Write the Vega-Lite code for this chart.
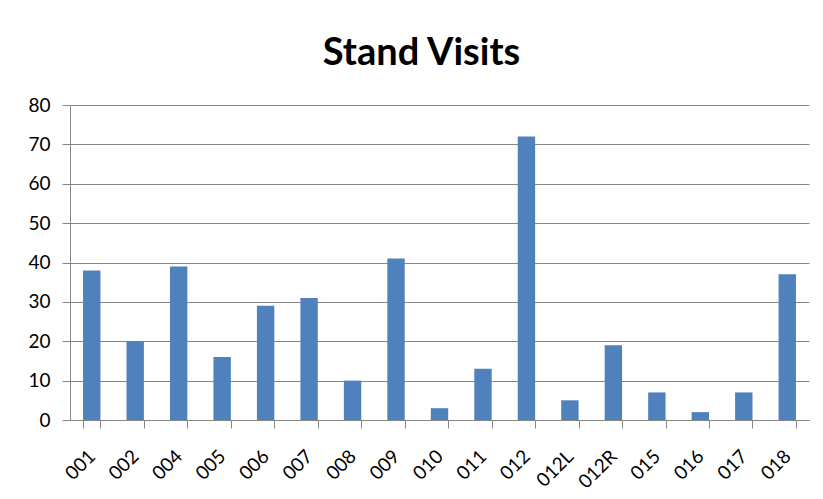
{
  "$schema": "https://vega.github.io/schema/vega-lite/v6.json",
  "width": 739,
  "height": 315,
  "autosize": {"type": "none"},
  "padding": {"left": 70, "top": 105, "right": 14, "bottom": 79},
  "background": "#ffffff",
  "title": {
    "text": "Stand Visits",
    "font": "Lato",
    "fontSize": 38,
    "fontWeight": "bold",
    "color": "#000000",
    "anchor": "middle",
    "frame": "group",
    "baseline": "alphabetic",
    "offset": 34,
    "dy": 41,
    "dx": -18
  },
  "data": {
    "values": [
      {"stand": "001", "visits": 38},
      {"stand": "002", "visits": 20},
      {"stand": "004", "visits": 39},
      {"stand": "005", "visits": 16},
      {"stand": "006", "visits": 29},
      {"stand": "007", "visits": 31},
      {"stand": "008", "visits": 10},
      {"stand": "009", "visits": 41},
      {"stand": "010", "visits": 3},
      {"stand": "011", "visits": 13},
      {"stand": "012", "visits": 72},
      {"stand": "012L", "visits": 5},
      {"stand": "012R", "visits": 19},
      {"stand": "015", "visits": 7},
      {"stand": "016", "visits": 2},
      {"stand": "017", "visits": 7},
      {"stand": "018", "visits": 37}
    ]
  },
  "mark": {"type": "bar", "color": "#4F81BD"},
  "encoding": {
    "x": {
      "field": "stand",
      "type": "nominal",
      "sort": null,
      "title": null,
      "scale": {"paddingInner": 0.6, "paddingOuter": 0.3},
      "axis": {
        "labelAngle": -45,
        "labelAlign": "right",
        "labelBaseline": "middle",
        "labelPadding": 25,
        "labelDx": 2,
        "tickBand": "extent",
        "tickSize": 8,
        "tickColor": "#868686",
        "domainColor": "#868686",
        "labelFont": "Lato",
        "labelFontSize": 19,
        "labelColor": "#000000",
        "grid": false
      }
    },
    "y": {
      "field": "visits",
      "type": "quantitative",
      "title": null,
      "scale": {"domain": [0, 80], "nice": false},
      "axis": {
        "values": [0, 10, 20, 30, 40, 50, 60, 70, 80],
        "tickSize": 8,
        "tickColor": "#868686",
        "domainColor": "#868686",
        "gridColor": "#868686",
        "labelPadding": 12,
        "labelFont": "Lato",
        "labelFontSize": 19,
        "labelColor": "#000000"
      }
    }
  },
  "config": {
    "view": {"stroke": null}
  }
}
